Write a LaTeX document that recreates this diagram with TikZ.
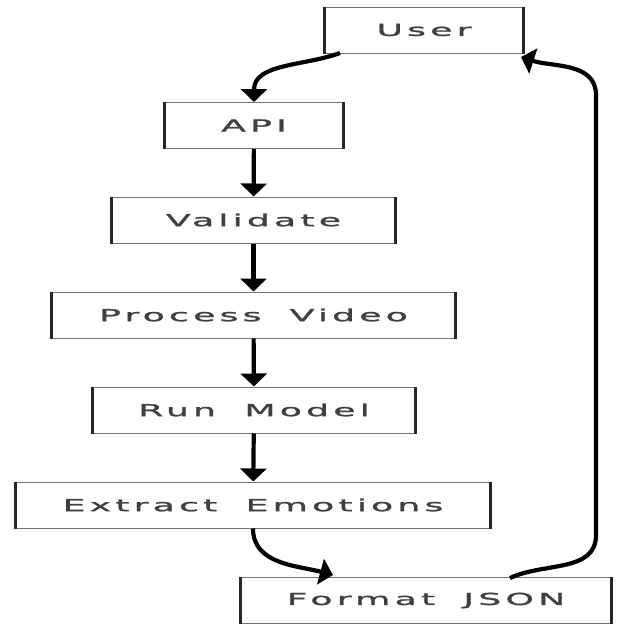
\documentclass[tikz,border=0pt]{standalone}
\usepackage{fontspec}
\newfontfamily\boxfont{DejaVu Sans}[FakeStretch=2.2,LetterSpace=25,FakeBold=1.5,WordSpace=1.8]
\usetikzlibrary{arrows.meta}
\begin{document}
\begin{tikzpicture}[x=1pt,y=-1pt,
  box/.style={draw=black!55,line width=1pt,rectangle,inner sep=0pt,minimum height=46pt,
    font=\boxfont\fontsize{16.5}{18}\selectfont,text=black!75,fill=white},
  side/.style={line width=3.4pt,black!85},
  arr/.style={line width=4.2pt,-{Triangle[width=26pt,length=13pt]}}]
\useasboundingbox[fill=white] (0,0) rectangle (622,625);
\node[box,minimum width=198pt] (user) at (424,30) {User};
\node[box,minimum width=178pt] (api) at (254,125.5) {API};
\node[box,minimum width=283pt] (val) at (253.5,220) {Validate};
\node[box,minimum width=403pt] (proc) at (253.5,315) {Process Video};
\node[box,minimum width=322pt] (run) at (254,410) {Run Model};
\node[box,minimum width=474pt] (ext) at (253,505) {Extract Emotions};
\node[box,minimum width=370pt] (fmt) at (426,600.5) {Format JSON};
\foreach \n in {user,api,val,proc,run,ext,fmt}
  \draw[side] (\n.north west) -- (\n.south west) (\n.north east) -- (\n.south east);
\coordinate (u1) at (340,53);
\coordinate (f1) at (333,575);
\coordinate (f2) at (510,578);
\coordinate (r1) at (596,535);
\coordinate (r2) at (596,95);
\coordinate (u2) at (521,57);
\draw[arr] (u1) to[out=200,in=90] (api.north);
\draw[arr] (api) -- (val);
\draw[arr] (val) -- (proc);
\draw[arr] (proc) -- (run);
\draw[arr] (run) -- (ext);
\draw[arr] (ext.south) to[out=-90,in=165] (f1);
\draw[arr] (f2) to[out=25,in=-90] (r1) -- (r2) to[out=90,in=-18] (u2);
\end{tikzpicture}
\end{document}
